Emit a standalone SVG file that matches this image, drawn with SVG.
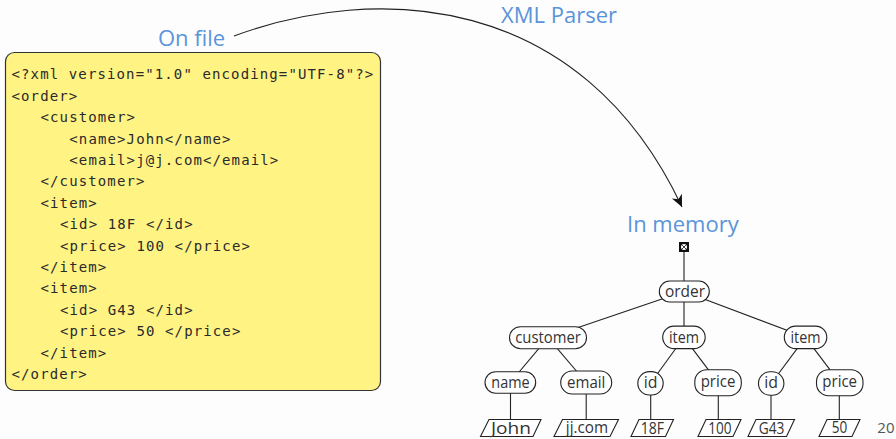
<svg xmlns="http://www.w3.org/2000/svg" width="896" height="439" viewBox="0 0 896 439">
<defs>
<style>
.bg{fill:#fdfdfd}
.code{font-family:"DejaVu Sans Mono","Liberation Mono",monospace;font-size:14px;fill:#2a2a2a;letter-spacing:1.12px}
.lbl{font-family:"Open Sans","Noto Sans",sans-serif;font-size:22px;fill:#5a94da}
.node rect{fill:#fff;stroke:#222;stroke-width:1.1}
.node polygon{fill:#fff;stroke:#222;stroke-width:1.1}
.nt{font-family:"Open Sans","Noto Sans",sans-serif;font-size:16px;fill:#333;text-anchor:middle}
.edge{stroke:#222;stroke-width:1.1;fill:none}
</style>
<marker id="ah" markerUnits="userSpaceOnUse" markerWidth="16" markerHeight="14" viewBox="-13 -7 15 14" refX="0" refY="0" orient="auto">
<path d="M0,0 L-12,-5.5 L-8.5,0 L-12,5.5 Z" fill="#111"/>
</marker>
</defs>
<rect class="bg" x="0" y="0" width="896" height="439"/>

<g id="file-box">
<rect x="5.5" y="52.5" width="375" height="338" rx="9" fill="#fff384" stroke="#333" stroke-width="1.2"/>
<text class="code" x="11.5" y="79.3">&lt;?xml version="1.0" encoding="UTF-8"?&gt;</text>
<text class="code" x="11.5" y="100.7">&lt;order&gt;</text>
<text class="code" x="40.5" y="122.1">&lt;customer&gt;</text>
<text class="code" x="69.3" y="143.5">&lt;name&gt;John&lt;/name&gt;</text>
<text class="code" x="69.3" y="164.9">&lt;email&gt;j@j.com&lt;/email&gt;</text>
<text class="code" x="40.5" y="186.3">&lt;/customer&gt;</text>
<text class="code" x="40.5" y="207.7">&lt;item&gt;</text>
<text class="code" x="60" y="229.1">&lt;id&gt; 18F &lt;/id&gt;</text>
<text class="code" x="60" y="250.5">&lt;price&gt; 100 &lt;/price&gt;</text>
<text class="code" x="40.5" y="271.9">&lt;/item&gt;</text>
<text class="code" x="40.5" y="293.3">&lt;item&gt;</text>
<text class="code" x="60" y="314.7">&lt;id&gt; G43 &lt;/id&gt;</text>
<text class="code" x="60" y="336.1">&lt;price&gt; 50 &lt;/price&gt;</text>
<text class="code" x="40.5" y="357.5">&lt;/item&gt;</text>
<text class="code" x="11.5" y="378.9">&lt;/order&gt;</text>
</g>

<g id="labels">
<text class="lbl" x="158" y="46">On file</text>
<text class="lbl" x="501" y="23">XML Parser</text>
<text class="lbl" x="627" y="232">In memory</text>
</g>

<g id="connectors">
<path class="edge" d="M234,36 C374,-16 580,-10 682,207" stroke-width="1.6" stroke="#111" marker-end="url(#ah)"/>
<line class="edge" x1="684" y1="252" x2="684" y2="291"/>
<line class="edge" x1="684" y1="291.5" x2="548" y2="337.7"/>
<line class="edge" x1="684" y1="291.5" x2="684" y2="337.3"/>
<line class="edge" x1="684" y1="291.5" x2="805.5" y2="337.3"/>
<line class="edge" x1="548" y1="337.7" x2="510.3" y2="382.5"/>
<line class="edge" x1="548" y1="337.7" x2="586.2" y2="382.5"/>
<line class="edge" x1="684" y1="337.3" x2="650.5" y2="383.3"/>
<line class="edge" x1="684" y1="337.3" x2="718" y2="382.7"/>
<line class="edge" x1="805.5" y1="337.3" x2="771.2" y2="383.5"/>
<line class="edge" x1="805.5" y1="337.3" x2="839.7" y2="382.7"/>
<line class="edge" x1="510.5" y1="383" x2="510.5" y2="428"/>
<line class="edge" x1="586.2" y1="383" x2="586.2" y2="428"/>
<line class="edge" x1="650.7" y1="383" x2="650.7" y2="428"/>
<line class="edge" x1="718.3" y1="383" x2="718.3" y2="428"/>
<line class="edge" x1="771" y1="383" x2="771" y2="428"/>
<line class="edge" x1="839.3" y1="383" x2="839.3" y2="428"/>
</g>

<g id="root-marker">
<rect x="679.5" y="242.5" width="9" height="9" fill="#111" stroke="#111" stroke-width="1"/>
<circle cx="684" cy="247" r="3" fill="#fff"/>
<line x1="680" y1="243" x2="688" y2="251" stroke="#111" stroke-width="0.8"/>
<line x1="688" y1="243" x2="680" y2="251" stroke="#111" stroke-width="0.8"/>
</g>

<g id="order" class="node"><rect x="659.3" y="281" width="50" height="21" rx="10.5"/><text class="nt" x="685" y="297" textLength="40" lengthAdjust="spacingAndGlyphs">order</text></g>
<g id="customer" class="node"><rect x="509.5" y="326.7" width="77" height="22" rx="11"/><text class="nt" x="548" y="342.7" textLength="65.5" lengthAdjust="spacingAndGlyphs">customer</text></g>
<g id="item1" class="node"><rect x="662.7" y="326.1" width="42.5" height="22.5" rx="11.25"/><text class="nt" x="684" y="342.5" textLength="30" lengthAdjust="spacingAndGlyphs">item</text></g>
<g id="item2" class="node"><rect x="784.3" y="326.1" width="42.5" height="22.5" rx="11.25"/><text class="nt" x="805.5" y="342.5" textLength="30" lengthAdjust="spacingAndGlyphs">item</text></g>
<g id="name" class="node"><rect x="485" y="371.7" width="50.7" height="21.6" rx="10.8"/><text class="nt" x="510.5" y="387.5" textLength="38.3" lengthAdjust="spacingAndGlyphs">name</text></g>
<g id="email" class="node"><rect x="560.7" y="371" width="51" height="23" rx="11.5"/><text class="nt" x="586.2" y="387.5" textLength="38.3" lengthAdjust="spacingAndGlyphs">email</text></g>
<g id="id1" class="node"><rect x="637.8" y="371.6" width="25.4" height="23.4" rx="11.7"/><text class="nt" x="650.5" y="388" textLength="13.7" lengthAdjust="spacingAndGlyphs">id</text></g>
<g id="price1" class="node"><rect x="694.8" y="369.7" width="46.5" height="26" rx="12"/><text class="nt" x="718" y="386.7" textLength="34.7" lengthAdjust="spacingAndGlyphs">price</text></g>
<g id="id2" class="node"><rect x="758.5" y="371.8" width="25.4" height="23.4" rx="11.7"/><text class="nt" x="771.2" y="388" textLength="13.7" lengthAdjust="spacingAndGlyphs">id</text></g>
<g id="price2" class="node"><rect x="816.5" y="369.7" width="46.5" height="26" rx="12"/><text class="nt" x="839.7" y="386.7" textLength="34.7" lengthAdjust="spacingAndGlyphs">price</text></g>

<g id="leaf-john" class="node"><polygon points="480.5,436.5 533,436.5 541,419.5 489,419.5"/><text class="nt" x="511" y="433.5" textLength="40" lengthAdjust="spacingAndGlyphs">John</text></g>
<g id="leaf-jjcom" class="node"><polygon points="554,436.5 610,436.5 618.5,419.5 562.5,419.5"/><text class="nt" x="587" y="433" textLength="42.3" lengthAdjust="spacingAndGlyphs">jj.com</text></g>
<g id="leaf-18F" class="node"><polygon points="631,436.5 665.5,436.5 673.5,419.5 639,419.5"/><text class="nt" x="652.3" y="433.5" textLength="23.3" lengthAdjust="spacingAndGlyphs">18F</text></g>
<g id="leaf-100" class="node"><polygon points="698,436.5 733,436.5 741,419.5 706,419.5"/><text class="nt" x="719.8" y="433.5" textLength="23.3" lengthAdjust="spacingAndGlyphs">100</text></g>
<g id="leaf-G43" class="node"><polygon points="748,436.5 786.5,436.5 794.5,419.5 756,419.5"/><text class="nt" x="771.5" y="433.5" textLength="25.7" lengthAdjust="spacingAndGlyphs">G43</text></g>
<g id="leaf-50" class="node"><polygon points="819,436.5 852,436.5 860,419.5 827,419.5"/><text class="nt" x="839.5" y="433.3" textLength="15.5" lengthAdjust="spacingAndGlyphs">50</text></g>

<text x="894.5" y="433" font-family="'Open Sans','Noto Sans',sans-serif" font-size="15" fill="#555" text-anchor="end">20</text>
</svg>
